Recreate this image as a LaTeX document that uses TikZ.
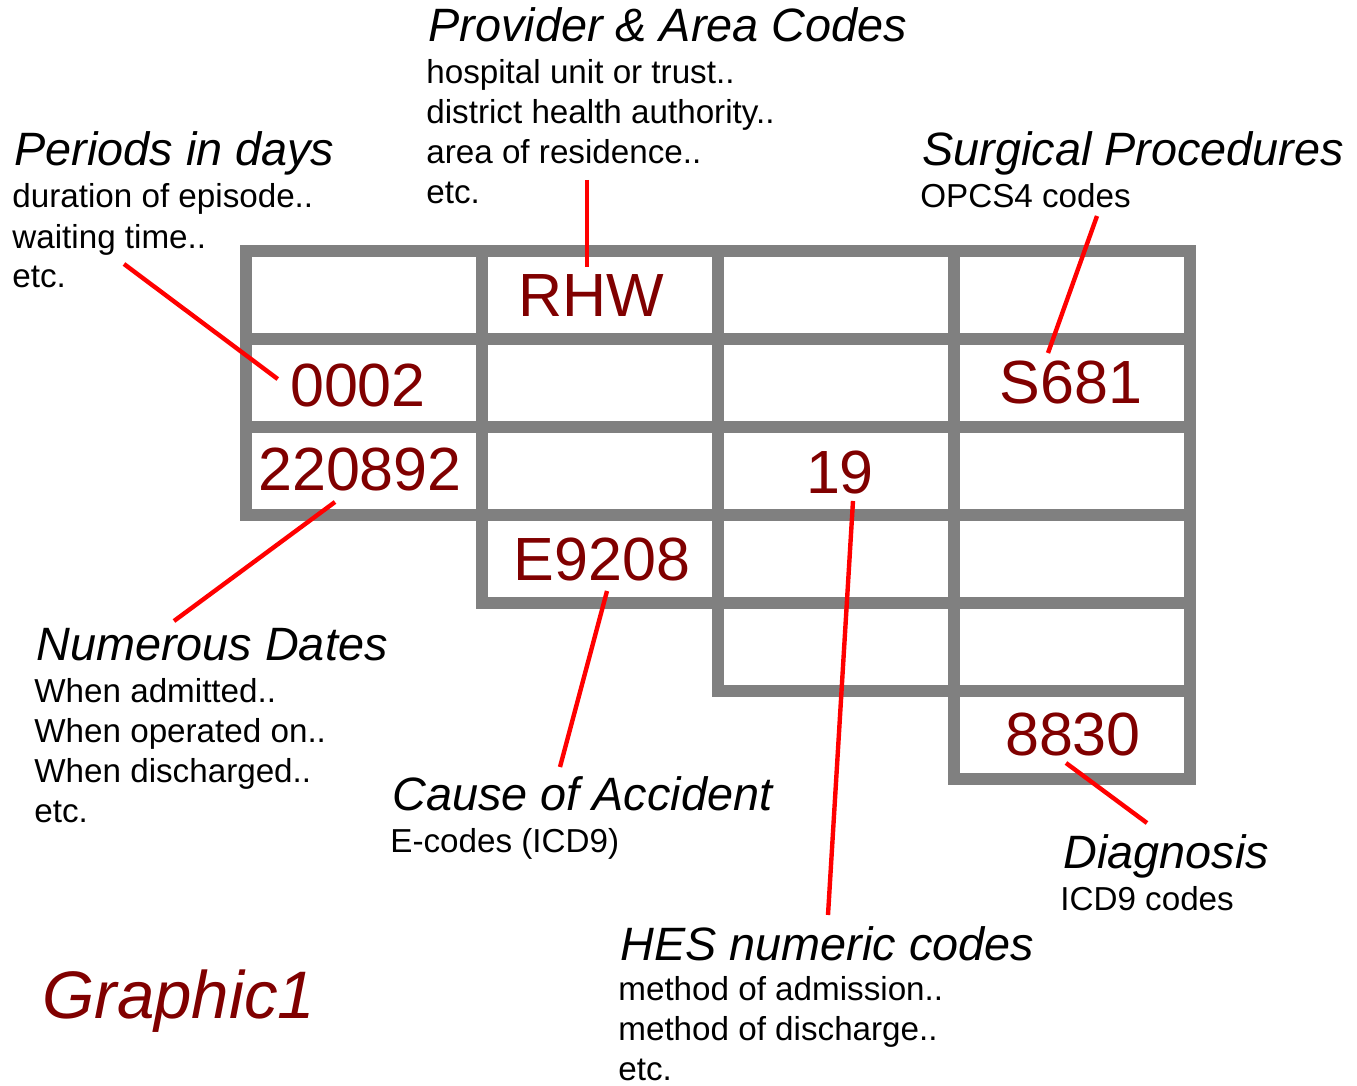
\documentclass[tikz,border=0pt]{standalone}
\usepackage{fontspec}
\setmainfont{Liberation Sans}
\usepackage{xcolor}
\usepackage{tikz}
\usetikzlibrary{positioning}
\definecolor{gridgray}{HTML}{808080}
\definecolor{codered}{HTML}{800000}
\tikzset{
  cellbox/.style={draw=gridgray,line width=6pt},
  codetext/.style={inner sep=0pt,anchor=base,font=\fontsize{30.5}{36}\selectfont,text=codered},
  headtext/.style={inner sep=0pt,anchor=base west,font=\fontsize{23.4}{28}\selectfont\itshape},
  notetext/.style={inner sep=0pt,anchor=base west,align=left,font=\fontsize{16.6}{20}\selectfont},
  pointer/.style={draw=red,line width=2.2pt},
}

\begin{document}
\begin{tikzpicture}[x=0.5pt,y=-0.5pt]
  \useasboundingbox (0,0) rectangle (1357,1086);
  % record grid, one column of cells at a time
  \foreach \c/\n in {1/3,2/4,3/5,4/6}
    \foreach \r in {1,...,\n}
      \draw[cellbox] (\c*236+10,\r*88+163) rectangle ++(236,88);

  % field values
  \node[codetext] (rhw) at (591,316) {RHW};
  \node[codetext] (days) at (358,407) {0002};
  \node[codetext] (proc) at (1071,403) {S681};
  \node[codetext] (dates) at (360,490) {220892};
  \node[codetext] (numcode) at (840,493) {19};
  \node[codetext] (ecode) at (602,580) {E9208};
  \node[codetext] (diag) at (1073,755) {8830};

  % field descriptions (multi-line notes sit on their last baseline)
  \node[headtext] (periodshead) at (14,166) {Periods in days};
  \node[notetext] (periodsbody) at (12,288) {duration of episode..\\waiting time..\\etc.};
  \node[headtext] (providerhead) at (428,42) {Provider \& Area Codes};
  \node[notetext] (providerbody) at (426,204) {hospital unit or trust..\\district health authority..\\area of residence..\\etc.};
  \node[headtext] (surghead) at (922,166) {Surgical Procedures};
  \node[notetext] (surgbody) at (920,208) {OPCS4 codes};
  \node[headtext] (dateshead) at (36,660) {Numerous Dates};
  \node[notetext] (datesbody) at (34,822) {When admitted..\\When operated on..\\When discharged..\\etc.};
  \node[headtext] (causehead) at (392,810) {Cause of Accident};
  \node[notetext] (causebody) at (390,852) {E-codes (ICD9)};
  \node[headtext] (diaghead) at (1063,868) {Diagnosis};
  \node[notetext] (diagbody) at (1060,910) {ICD9 codes};
  \node[headtext] (heshead) at (620,960) {HES numeric codes};
  \node[notetext] (hesbody) at (618,1080) {method of admission..\\method of discharge..\\etc.};
  \node[headtext,font=\fontsize{33.6}{40}\selectfont\itshape,text=codered] (title) at (42,1018) {Graphic1};

  % pointer lines
  \coordinate (periodsend) at (124,264);
  \coordinate (providerend) at (587,180);
  \coordinate (surgend) at (1097,216);
  \coordinate (datesend) at (174,621);
  \coordinate (causeend) at (560,767);
  \coordinate (hesend) at (828,915);
  \coordinate (diagend) at (1147,823);
  \draw[pointer] (periodsend) -- ([shift={(-12,-7)}]days.west);
  \draw[pointer] (providerend) -- ([shift={(-4,-7)}]rhw.north);
  \draw[pointer] (surgend) -- ([shift={(-23,-7)}]proc.north);
  \draw[pointer] (datesend) -- ([shift={(-25,11)}]dates.south);
  \draw[pointer] (causeend) -- ([shift={(5,10)}]ecode.south);
  \draw[pointer] (hesend) -- ([shift={(13,7)}]numcode.south);
  \draw[pointer] (diagend) -- ([shift={(-7,7)}]diag.south);
\end{tikzpicture}
\end{document}
